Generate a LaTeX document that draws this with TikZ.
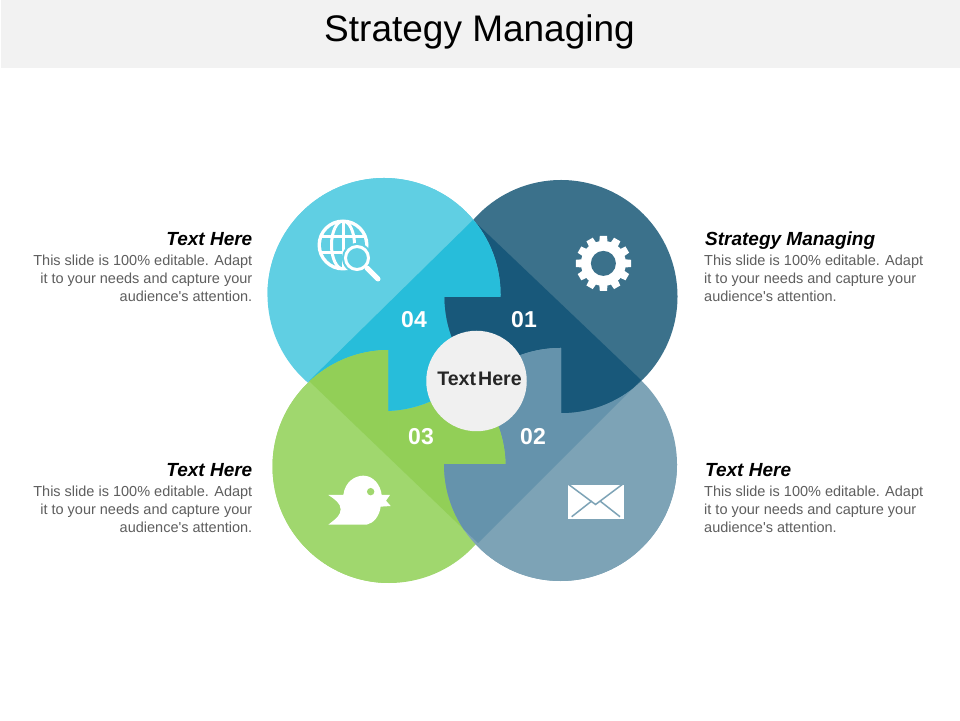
\documentclass[tikz,border=0pt]{standalone}
\usepackage{fontspec}
\setmainfont{Liberation Sans}
\newfontfamily\rawfont{Liberation Sans}
\definecolor{barC}{HTML}{F2F2F2}
\definecolor{blueO}{HTML}{60CFE3}
\definecolor{blueI}{HTML}{27BDDA}
\definecolor{darkO}{HTML}{3B718B}
\definecolor{darkI}{HTML}{18587A}
\definecolor{slateO}{HTML}{7DA3B6}
\definecolor{slateI}{HTML}{6593AC}
\definecolor{greenO}{HTML}{A0D76E}
\definecolor{greenI}{HTML}{92CF57}
\definecolor{hubC}{HTML}{F0F0F0}
\definecolor{bodyC}{HTML}{5E5E5E}
\newcommand{\petal}[5]{%
  \fill[#4] (#1,#2) circle[radius=#3];
  \begin{scope}
    \clip (473,500) -- (641,340) -- (478,177) -- (309,339) -- cycle;
    \fill[#5] (#1,#2) circle[radius=#3];
  \end{scope}}
\newcommand{\petalBlue}{\petal{384}{425.5}{116.5}{blueO}{blueI}}
\newcommand{\petalDark}{\petal{561}{423.5}{116.5}{darkO}{darkI}}
\newcommand{\petalSlate}{\petal{560.5}{255.5}{116.5}{slateO}{slateI}}
\newcommand{\petalGreen}{\petal{389}{253.5}{116.5}{greenO}{greenI}}
\tikzset{
  num/.style={text=white,font=\fontsize{23}{23}\selectfont\bfseries,inner sep=0pt},
  head/.style={font=\fontsize{19}{20}\selectfont\bfseries\itshape,text=black,inner sep=0pt},
  copyL/.style={font=\rawfont\fontsize{14.5}{17.8}\selectfont,text=bodyC,inner sep=0pt,align=right,anchor=north east},
  copyR/.style={font=\rawfont\fontsize{14.5}{17.8}\selectfont,text=bodyC,inner sep=0pt,align=left,anchor=north west}
}
\begin{document}
\begin{tikzpicture}[x=1pt,y=1pt]
\useasboundingbox (0,0) rectangle (960,720);
\fill[white] (0,0) rectangle (960,720);
\fill[barC] (1,652) rectangle (960,720);
\node[inner sep=0pt,font=\fontsize{37}{40}\selectfont,text=black] (title) at (479.5,688.5) {Strategy Managing};
% petals, interlocked
\petalSlate
\petalGreen
\begin{scope}\clip (300,0) rectangle (960,255.7); \petalSlate \end{scope}
\petalBlue
\begin{scope}\clip (200,0) rectangle (388,400); \petalGreen \end{scope}
\petalDark
\begin{scope}\clip (200,423.5) rectangle (600,600); \petalBlue \end{scope}
\begin{scope}\clip (480,300) rectangle (561,380); \petalSlate \end{scope}
% hub
\node[circle,fill=hubC,minimum size=100.5pt,inner sep=0pt] (hub) at (476.5,339) {};
\node[inner sep=0pt,font=\fontsize{19.6}{20}\selectfont\bfseries,text=black!85] (hubtext) at (479.5,341) {Text\hspace{0.1em}Here};
% numbers
\node[num] (n4) at (414,400) {04};
\node[num] (n1) at (524,400) {01};
\node[num] (n3) at (421,283) {03};
\node[num] (n2) at (533,283) {02};
% globe icon
\begin{scope}
  \fill[white] (343,475) circle[radius=25.5];
  \fill[blueO] (343,475) circle[radius=22];
  \begin{scope}
    \clip (343,475) circle[radius=23];
    \draw[white,line width=3pt] (343,475) ellipse[x radius=11.5,y radius=24];
    \draw[white,line width=3pt] (343,449) -- (343,501);
    \draw[white,line width=3pt] (317,483) -- (369,483);
    \draw[white,line width=3pt] (317,467) -- (369,467);
  \end{scope}
  \fill[blueO] (357,462) circle[radius=15];
  \draw[white,line width=3pt] (357,462) circle[radius=11.5];
  \draw[white,line width=5pt,line cap=round] (367,452) -- (378,441);
\end{scope}
% gear icon
\begin{scope}[shift={(603.4,456.6)}]
  \fill[white] (0,0) circle[radius=22.5];
  \foreach \a in {0,30,...,330}
    \fill[white,rotate=\a] (-4.2,20) -- (4.2,20) -- (3.6,27.6) -- (-3.6,27.6) -- cycle;
  \fill[darkO] (0,0) circle[radius=12.5];
\end{scope}
% bird icon
\begin{scope}[shift={(310,260)},x=0.3333pt,y=-0.3333pt]
  \fill[white] (55,105) -- (100,105) .. controls (105,65) and (135,47) .. (160,47)
    .. controls (190,47) and (212,75) .. (215,105) -- (240,105) -- (228,122) -- (242,138) -- (212,140)
    .. controls (208,170) and (190,190) .. (170,194) -- (55,194)
    .. controls (80,175) and (92,165) .. (92,148) .. controls (92,130) and (75,118) .. (55,105) -- cycle;
  \fill[greenO] (182,95) circle[radius=3.7pt];
\end{scope}
% envelope icon
\fill[white] (568.3,201) rectangle (623.5,235);
\draw[slateO,line width=1.5pt] (568,236) -- (595.5,215.5) -- (623.5,236.5);
\draw[slateO,line width=1.5pt] (571.7,203.3) -- (591.7,219);
\draw[slateO,line width=1.5pt] (620,203.3) -- (600,219);
% side text
\node[head,anchor=base east] (hl1) at (252.5,474.5) {Text Here};
\node[copyL] (tl1) at (252.5,465) {This slide is 100\% editable. Adapt\\it to your needs and capture your\\audience's attention.};
\node[head,anchor=base east] (hl2) at (252.5,243.5) {Text Here};
\node[copyL] (tl2) at (252.5,234) {This slide is 100\% editable. Adapt\\it to your needs and capture your\\audience's attention.};
\node[head,anchor=base west] (hr1) at (705,474.5) {Strategy Managing};
\node[copyR] (tr1) at (704,465) {This slide is 100\% editable. Adapt\\it to your needs and capture your\\audience's attention.};
\node[head,anchor=base west] (hr2) at (705,243.5) {Text Here};
\node[copyR] (tr2) at (704,234) {This slide is 100\% editable. Adapt\\it to your needs and capture your\\audience's attention.};
\end{tikzpicture}
\end{document}
